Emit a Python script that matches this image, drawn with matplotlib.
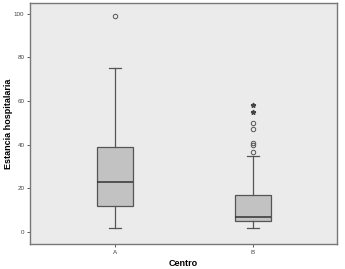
import matplotlib
matplotlib.use('Agg')
import matplotlib.pyplot as plt

plt.rcParams['font.family'] = ['Liberation Sans', 'DejaVu Sans']

# data
centros = ['A', 'B']
whislo = [2, 2]
q1 = [12, 5]
med = [23, 7]
q3 = [39, 17]
whishi = [75, 35]
atipicos = [[99], [36.5, 40, 40.7, 47, 50]]   # circles
extremos = [[], [55, 58]]                    # stars
yticks = [0, 20, 40, 60, 80, 100]

fig = plt.figure(figsize=(3.45, 2.69), dpi=100)
ax = fig.add_axes([0.087, 0.093, 0.89, 0.896])
ax.set_facecolor('#ebebeb')

stats = []
for i, c in enumerate(centros):
    stats.append(dict(label=c, whislo=whislo[i], q1=q1[i], med=med[i],
                      q3=q3[i], whishi=whishi[i], fliers=atipicos[i]))

ax.bxp(stats, positions=[1, 2], widths=0.26, patch_artist=True,
       boxprops=dict(facecolor='#c2c2c2', edgecolor='#555555', linewidth=0.9),
       medianprops=dict(color='#333333', linewidth=1.1),
       whiskerprops=dict(color='#555555', linewidth=0.9),
       capprops=dict(color='#555555', linewidth=0.9),
       capwidths=0.09,
       flierprops=dict(marker='o', markersize=3.2, markerfacecolor='none',
                       markeredgecolor='#555555', markeredgewidth=0.7))

for i, vals in enumerate(extremos):
    if vals:
        ax.plot([i + 1] * len(vals), vals, linestyle='none', marker='*',
                markersize=3.5, color='#444444')

ax.set_xlim(0.384, 2.61)
ax.set_ylim(-5.5, 105)
ax.set_yticks(yticks)
ax.set_xticks([1, 2])
ax.set_xticklabels(centros)
ax.tick_params(labelsize=4.5, colors='#444444', length=2.5, width=0.6, pad=1.5)
ax.set_ylabel('Estancia hospitalaria', fontsize=6.5, fontweight='bold')
ax.set_xlabel('Centro', fontsize=6.5, fontweight='bold')
ax.yaxis.set_label_coords(-0.054, 0.5)
ax.xaxis.set_label_coords(0.5, -0.063)
for s in ax.spines.values():
    s.set_color('#777777')
    s.set_linewidth(1.0)

fig.savefig('out.png', dpi=100)
